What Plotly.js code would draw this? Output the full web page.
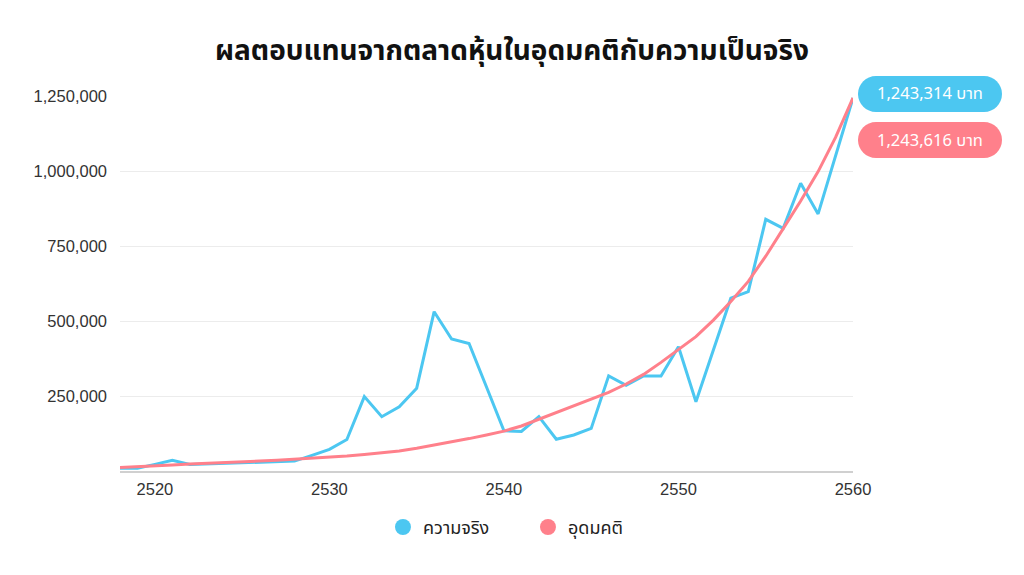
<!DOCTYPE html>
<html>
<head>
<meta charset="utf-8">
<script src="https://cdn.plot.ly/plotly-3.0.1.min.js"></script>
<style>
  html, body { margin: 0; padding: 0; background: #fff; }
  #chart { width: 1024px; height: 575px; }
</style>
</head>
<body>
<div id="chart"></div>
<script>
// years (พ.ศ.)
const years = [
  2518, 2519, 2520, 2521, 2522, 2523, 2524, 2525, 2526, 2527, 2528, 2529, 2530, 2531,
  2532, 2533, 2534, 2535, 2536, 2537, 2538, 2539, 2540, 2541, 2542, 2543, 2544, 2545,
  2546, 2547, 2548, 2549, 2550, 2551, 2552, 2553, 2554, 2555, 2556, 2557, 2558, 2559, 2560
];

// ความจริง (real market)
const realValues = [
  9000, 9000, 22000, 36000, 22000, 24000, 26000, 28000, 30000, 31000, 33000, 52000, 72000, 105000,
  248000, 181000, 214000, 276000, 531000, 440000, 425000, 280000, 134000, 132000, 181000, 106000, 120000, 142000,
  317000, 286000, 317000, 317000, 414000, 231000, 404000, 576000, 598000, 839000, 809000, 959000, 857000, 1050000, 1243314
];

// อุดมคติ (ideal)
const idealValues = [
  12000, 14000, 17000, 20000, 23000, 25000, 27000, 30000, 33000, 36000, 39000, 42000, 45000, 50000,
  55000, 61000, 67000, 76000, 86000, 96000, 108000, 120000, 133000, 150000, 172000, 195000, 216000, 240000,
  262000, 290000, 322000, 362000, 405000, 448000, 503000, 565000, 632000, 716000, 808000, 900000, 998000, 1112000, 1243616
];

const yTicks = [250000, 500000, 750000, 1000000, 1250000];
const yTickText = ["250,000", "500,000", "750,000", "1,000,000", "1,250,000"];
const xTicks = [2520, 2530, 2540, 2550, 2560];

const BLUE = "#4cc7f1";
const PINK = "#ff808b";
const thaiFont = "Noto Sans Thai, Kanit, Prompt, sans-serif";
const numFont = "Liberation Sans, Arial, sans-serif";

// plot box in pixels (used for the pill labels)
const W = 1024, H = 575;
const M = { l: 120, r: 171, t: 96, b: 104 };
const px2x = (px) => (px - M.l) / (W - M.l - M.r);
const py2y = (py) => (H - M.b - py) / (H - M.t - M.b);

// rounded pill path in paper coords, built from pixel box
const pill = (x0, y0, x1, y1) => {
  const r = (y1 - y0) / 2;
  const k = 0.5523 * r;
  const P = (x, y) => px2x(x).toFixed(5) + "," + py2y(y).toFixed(5);
  return "M" + P(x0 + r, y0) +
    " L" + P(x1 - r, y0) +
    " C" + P(x1 - r + k, y0) + " " + P(x1, y0 + r - k) + " " + P(x1, y0 + r) +
    " C" + P(x1, y0 + r + k) + " " + P(x1 - r + k, y1) + " " + P(x1 - r, y1) +
    " L" + P(x0 + r, y1) +
    " C" + P(x0 + r - k, y1) + " " + P(x0, y0 + r + k) + " " + P(x0, y0 + r) +
    " C" + P(x0, y0 + r - k) + " " + P(x0 + r - k, y0) + " " + P(x0 + r, y0) + " Z";
};

const realTrace = {
  x: years,
  y: realValues,
  type: "scatter",
  mode: "lines",
  name: "ความจริง",
  line: { color: BLUE, width: 3 },
  showlegend: false,
  hoverinfo: "none",
};

const idealTrace = {
  x: years,
  y: idealValues,
  type: "scatter",
  mode: "lines",
  name: "อุดมคติ",
  line: { color: PINK, width: 3 },
  showlegend: false,
  hoverinfo: "none",
};

// legend-only entries with round markers
const realLegend = {
  x: [null], y: [null], type: "scatter", mode: "markers",
  name: "ความจริง", marker: { color: BLUE, size: 18 },
};
const idealLegend = {
  x: [null], y: [null], type: "scatter", mode: "markers",
  name: "อุดมคติ", marker: { color: PINK, size: 18 },
};

const lastReal = realValues[realValues.length - 1];
const lastIdeal = idealValues[idealValues.length - 1];
const fmt = (v) => v.toLocaleString("en-US") + " บาท";

const layout = {
  width: W,
  height: H,
  margin: M,
  paper_bgcolor: "#fff",
  plot_bgcolor: "#fff",
  title: {
    text: "<b>ผลตอบแทนจากตลาดหุ้นในอุดมคติกับความเป็นจริง</b>",
    font: { family: thaiFont, size: 28, color: "#111" },
    x: 0.5,
    xanchor: "center",
    y: 0.913,
    yanchor: "middle",
  },
  xaxis: {
    range: [2518, 2560],
    tickvals: xTicks,
    ticktext: xTicks.map(String),
    showgrid: false,
    zeroline: false,
    showline: true,
    linecolor: "#d0d0d0",
    linewidth: 2,
    ticks: "",
    ticklabelstandoff: 2,
    tickfont: { family: numFont, size: 16.5, color: "#333" },
    fixedrange: true,
  },
  yaxis: {
    range: [0, 1250000],
    tickvals: yTicks,
    ticktext: yTickText,
    showgrid: true,
    gridcolor: "#ececec",
    gridwidth: 1,
    zeroline: false,
    showline: false,
    ticks: "",
    ticklabelstandoff: 12,
    tickfont: { family: numFont, size: 16.5, color: "#333" },
    fixedrange: true,
  },
  legend: {
    orientation: "h",
    x: 0.374,
    xanchor: "left",
    xref: "container",
    y: 0.083,
    yanchor: "middle",
    yref: "container",
    font: { family: thaiFont, size: 18, color: "#222" },
    itemwidth: 30,
    entrywidth: 100,
    entrywidthmode: "pixels",
    tracegroupgap: 0,
  },
  shapes: [
    {
      type: "path", xref: "paper", yref: "paper",
      path: pill(858, 76, 1002, 112),
      fillcolor: BLUE, line: { width: 0 },
    },
    {
      type: "path", xref: "paper", yref: "paper",
      path: pill(858, 122, 1002, 158),
      fillcolor: PINK, line: { width: 0 },
    },
  ],
  annotations: [
    {
      xref: "paper", yref: "paper",
      x: px2x(930), y: py2y(94),
      text: fmt(lastReal),
      showarrow: false,
      font: { family: thaiFont, size: 16.5, color: "#fff" },
      xanchor: "center", yanchor: "middle",
    },
    {
      xref: "paper", yref: "paper",
      x: px2x(930), y: py2y(140),
      text: fmt(lastIdeal),
      showarrow: false,
      font: { family: thaiFont, size: 16.5, color: "#fff" },
      xanchor: "center", yanchor: "middle",
    },
  ],
};

const config = { responsive: false, staticPlot: true, displayModeBar: false };

Plotly.newPlot("chart", [realTrace, idealTrace, realLegend, idealLegend], layout, config);
</script>
</body>
</html>
